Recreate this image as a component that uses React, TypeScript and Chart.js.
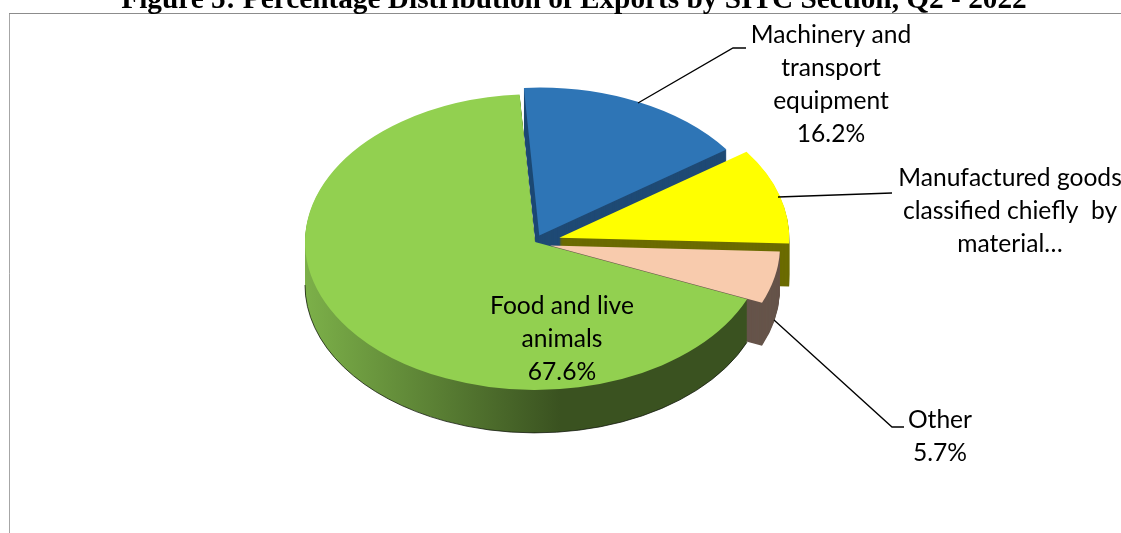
import React, { useEffect, useRef } from "react";
import { Chart, registerables } from "chart.js";

Chart.register(...registerables);

const categories = ["Food and live animals", "Machinery and transport equipment", "Manufactured goods classified chiefly by material…", "Other"];
const shares = [67.6, 16.2, 10.5, 5.7];
const topColors = ["#92d050", "#2e75b6", "#ffff00", "#f8cbad"];
const wallColors = ["#3a5220", "#1f4a75", "#6b6b00", "#66544a"];
const titleText = "Figure 5: Percentage Distribution of Exports by SITC Section, Q2 - 2022";
const labelLines = [
  ["Food and live", "animals", "67.6%"],
  ["Machinery and", "transport", "equipment", "16.2%"],
  ["Manufactured goods", "classified chiefly  by", "material…"],
  ["Other", "5.7%"],
];

const explodeX = [0, 4.3, 24.3, 15];
const explodeY = [0, -6.5, -4.3, 3.5];
const labelAnchors = [[562, 306], [831, 35], [1010, 178], [940, 420]];
const leaders = [
  null,
  [[638, 103], [733, 48], [746, 48]],
  [[778, 197], [892, 193]],
  [[774, 320], [892, 427], [904, 427]],
];

const RADIUS = 230;
const TILT = 0.643;
const DEPTH = 43;
const LABEL_FONT = '24.6px Lato, "Open Sans", sans-serif';
const LINE_H = 33;

const pie3d = {
  id: "pie3d",
  afterDatasetsUpdate(chart: any) {
    chart.getDatasetMeta(0).data.forEach((arc: any, i: number) => {
      arc.x += explodeX[i];
      arc.y += explodeY[i] / TILT;
    });
  },
  beforeDraw(chart: any) {
    const { ctx, width, height } = chart;
    ctx.save();
    ctx.fillStyle = "#ffffff";
    ctx.fillRect(0, 0, width, height);
    ctx.strokeStyle = "#a6a6a6";
    ctx.lineWidth = 1;
    ctx.beginPath();
    ctx.moveTo(9.5, height);
    ctx.lineTo(9.5, 13.5);
    ctx.stroke();
    ctx.strokeStyle = "#8c8c8c";
    ctx.beginPath();
    ctx.moveTo(9, 13.5);
    ctx.lineTo(width, 13.5);
    ctx.stroke();
    ctx.fillStyle = "#000000";
    ctx.font = 'bold 29.3px "Liberation Serif", "Times New Roman", serif';
    ctx.textAlign = "center";
    ctx.textBaseline = "alphabetic";
    ctx.fillText(titleText, 574, 8);
    ctx.restore();
  },
  beforeDatasetsDraw(chart: any) {
    const { ctx, chartArea } = chart;
    const cy = (chartArea.top + chartArea.bottom) / 2;
    const arcs = chart.getDatasetMeta(0).data;
    const order = [1, 2, 3, 0];
    order.forEach((i) => {
      const a = arcs[i];
      const px = a.x;
      const py = cy + (a.y - cy) * TILT;
      const rx = a.outerRadius;
      const ry = a.outerRadius * TILT;
      let fill: any = wallColors[i];
      if (i === 0) {
        const g = ctx.createLinearGradient(px - rx, 0, px + 25, 0);
        g.addColorStop(0, "#7cb049");
        g.addColorStop(1, wallColors[0]);
        fill = g;
      }
      ctx.save();
      ctx.fillStyle = fill;
      for (let dy = DEPTH; dy >= 1; dy--) {
        ctx.beginPath();
        ctx.moveTo(px, py + dy);
        ctx.ellipse(px, py + dy, rx, ry, 0, a.startAngle, a.endAngle);
        ctx.closePath();
        ctx.fill();
      }
      if (i === 0) {
        ctx.strokeStyle = "rgba(15,20,10,0.75)";
        ctx.lineWidth = 1;
        ctx.beginPath();
        ctx.ellipse(px, py + DEPTH, rx, ry, 0, a.startAngle, Math.PI);
        ctx.stroke();
      }
      ctx.restore();
    });
    ctx.save();
    ctx.translate(0, cy);
    ctx.scale(1, TILT);
    ctx.translate(0, -cy);
  },
  afterDatasetsDraw(chart: any) {
    const { ctx } = chart;
    ctx.restore();
    ctx.save();
    ctx.strokeStyle = "#000000";
    ctx.lineWidth = 1.3;
    leaders.forEach((pts) => {
      if (!pts) return;
      ctx.beginPath();
      pts.forEach((p, k) => (k ? ctx.lineTo(p[0], p[1]) : ctx.moveTo(p[0], p[1])));
      ctx.stroke();
    });
    ctx.fillStyle = "#000000";
    ctx.font = LABEL_FONT;
    ctx.textAlign = "center";
    ctx.textBaseline = "middle";
    labelLines.forEach((lines, i) => {
      lines.forEach((t, k) => ctx.fillText(t, labelAnchors[i][0], labelAnchors[i][1] + k * LINE_H));
    });
    ctx.restore();
  },
};

export default function App() {
  const ref = useRef<HTMLCanvasElement>(null);
  useEffect(() => {
    const chart = new Chart(ref.current as HTMLCanvasElement, {
      type: "pie",
      data: {
        labels: categories,
        datasets: [{ data: shares, backgroundColor: topColors, borderWidth: 0, clip: false } as any],
      },
      options: {
        animation: false,
        responsive: false,
        radius: RADIUS,
        rotation: 112.8,
        layout: { padding: { right: 51, bottom: 49 } },
        plugins: { legend: { display: false }, tooltip: { enabled: false }, title: { display: false } },
      } as any,
      plugins: [pie3d],
    });
    return () => chart.destroy();
  }, []);
  return (
    <div style={{ position: "fixed", left: 0, top: 0 }}>
      <canvas ref={ref} width={1121} height={533} style={{ display: "block" }} />
    </div>
  );
}
